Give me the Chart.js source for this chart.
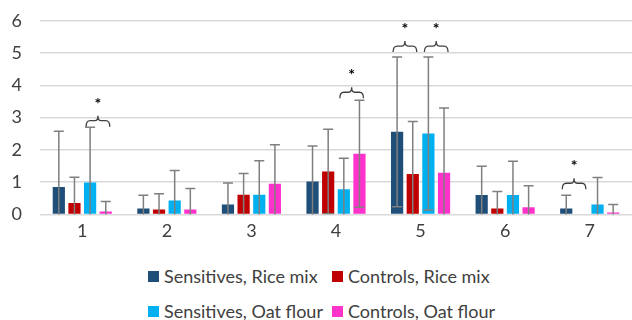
<!DOCTYPE html>
<html>
<head>
<meta charset="utf-8">
<script src="https://cdn.jsdelivr.net/npm/chart.js@4.4.1/dist/chart.umd.min.js"></script>
<style>
  body { margin: 0; background: #fff; }
  #wrap { position: relative; width: 632px; height: 320px; overflow: hidden; }
  #chartBox { position: absolute; left: 0; top: -8px; width: 632px; height: 258px; }
  #legend { position: absolute; left: 148px; top: 266px; display: grid;
            grid-template-columns: 184px 184px; row-gap: 15px;
            font-family: Lato, sans-serif; font-size: 18px; color: #404040; }
  .item { display: flex; align-items: center; height: 20px; white-space: nowrap; }
  .sw { width: 11px; height: 11px; margin-right: 5px; display: inline-block; }
</style>
</head>
<body>
<div id="wrap">
  <div id="chartBox"><canvas id="barChart"></canvas></div>
  <div id="legend"></div>
</div>
<script>
// data
const categories = ['1', '2', '3', '4', '5', '6', '7'];
const seriesNames = ['Sensitives, Rice mix', 'Controls, Rice mix', 'Sensitives, Oat flour', 'Controls, Oat flour'];
const sensRice   = [0.85, 0.18, 0.31, 1.02, 2.56, 0.60, 0.18];
const sensRiceSd = [1.73, 0.41, 0.66, 1.10, 2.32, 0.89, 0.41];
const ctrlRice   = [0.35, 0.15, 0.61, 1.33, 1.25, 0.18, 0];
const ctrlRiceSd = [0.80, 0.49, 0.66, 1.31, 1.63, 0.53, 0];
const sensOat    = [0.99, 0.43, 0.61, 0.78, 2.51, 0.60, 0.31];
const sensOatSd  = [1.71, 0.93, 1.05, 0.96, 2.37, 1.05, 0.83];
const ctrlOat    = [0.09, 0.15, 0.95, 1.88, 1.29, 0.22, 0.06];
const ctrlOatSd  = [0.31, 0.65, 1.21, 1.66, 2.01, 0.67, 0.25];
const yTicks = [0, 1, 2, 3, 4, 5, 6];

// significance braces: category, first and last bar (dataset index), value where brace ends sit
const sigCats  = [0, 3, 4, 4, 6];
const sigFrom  = [2, 2, 0, 2, 0];
const sigTo    = [3, 3, 1, 3, 1];
const sigLevel = [2.72, 3.6, 5.03, 5.03, 0.78];

const colors = ['#1f4e79', '#c00000', '#00b0f0', '#ff33cc'];
const values = [sensRice, ctrlRice, sensOat, ctrlOat];
const errors = [sensRiceSd, ctrlRiceSd, sensOatSd, ctrlOatSd];

const errorBars = {
  id: 'errorBars',
  afterDatasetsDraw(chart) {
    const ctx = chart.ctx, y = chart.scales.y, area = chart.chartArea;
    ctx.save();
    ctx.beginPath();
    ctx.rect(area.left, area.top - 2, area.right - area.left, area.bottom - area.top + 2);
    ctx.clip();
    ctx.strokeStyle = '#7f7f7f';
    ctx.lineWidth = 1.5;
    chart.data.datasets.forEach(function(ds, i) {
      const meta = chart.getDatasetMeta(i);
      meta.data.forEach(function(bar, j) {
        const sd = errors[i][j];
        if (!sd) return;
        const v = ds.data[j];
        const top = y.getPixelForValue(v + sd);
        const bot = y.getPixelForValue(v - sd);
        ctx.beginPath();
        ctx.moveTo(bar.x, top); ctx.lineTo(bar.x, bot);
        ctx.moveTo(bar.x - 5, top); ctx.lineTo(bar.x + 5, top);
        ctx.moveTo(bar.x - 5, bot); ctx.lineTo(bar.x + 5, bot);
        ctx.stroke();
      });
    });
    ctx.restore();
  }
};

const braces = {
  id: 'braces',
  afterDraw(chart) {
    const ctx = chart.ctx, y = chart.scales.y;
    ctx.save();
    ctx.strokeStyle = '#404040';
    ctx.fillStyle = '#000';
    ctx.lineWidth = 1.3;
    for (let k = 0; k < sigCats.length; k++) {
      const x1 = chart.getDatasetMeta(sigFrom[k]).data[sigCats[k]].x - 4;
      const x2 = chart.getDatasetMeta(sigTo[k]).data[sigCats[k]].x + 4;
      const xm = (x1 + x2) / 2;
      const yb = y.getPixelForValue(sigLevel[k]);
      const yf = yb - 6, yp = yb - 11;
      ctx.beginPath();
      ctx.moveTo(x1, yb);
      ctx.quadraticCurveTo(x1, yf, x1 + 4, yf);
      ctx.lineTo(xm - 3, yf);
      ctx.quadraticCurveTo(xm, yf, xm, yp);
      ctx.quadraticCurveTo(xm, yf, xm + 3, yf);
      ctx.lineTo(x2 - 4, yf);
      ctx.quadraticCurveTo(x2, yf, x2, yb);
      ctx.stroke();
      ctx.font = 'bold 16px Lato';
      ctx.textAlign = 'center';
      ctx.textBaseline = 'middle';
      ctx.fillText('*', xm, yp - 12);
    }
    ctx.restore();
  }
};

const chart = new Chart(document.getElementById('barChart').getContext('2d'), {
  type: 'bar',
  data: {
    labels: categories,
    datasets: seriesNames.map(function(name, i) {
      return {
        label: name,
        data: values[i],
        backgroundColor: colors[i],
        categoryPercentage: 0.74,
        barPercentage: 0.78
      };
    })
  },
  options: {
    responsive: true,
    maintainAspectRatio: false,
    animation: false,
    layout: { padding: { top: 0, right: 0, bottom: 2, left: 0 } },
    plugins: { legend: { display: false }, tooltip: { enabled: false } },
    scales: {
      x: {
        grid: { display: false, drawTicks: false },
        border: { display: false },
        ticks: { font: { family: 'Lato', size: 18 }, color: '#404040', padding: 6 }
      },
      y: {
        min: 0, max: 6,
        afterBuildTicks: function(s) { s.ticks = yTicks.map(function(v) { return { value: v }; }); },
        afterFit: function(s) { s.width = 40; },
        grid: { color: '#d9d9d9', lineWidth: 1.5, drawTicks: false },
        border: { display: false },
        ticks: { font: { family: 'Lato', size: 18 }, color: '#404040', padding: 18 }
      }
    }
  },
  plugins: [errorBars, braces]
});

// legend
const legend = document.getElementById('legend');
seriesNames.forEach(function(name, i) {
  const it = document.createElement('div');
  it.className = 'item';
  it.innerHTML = '<span class="sw" style="background:' + colors[i] + '"></span>' + name;
  legend.appendChild(it);
});
</script>
</body>
</html>
